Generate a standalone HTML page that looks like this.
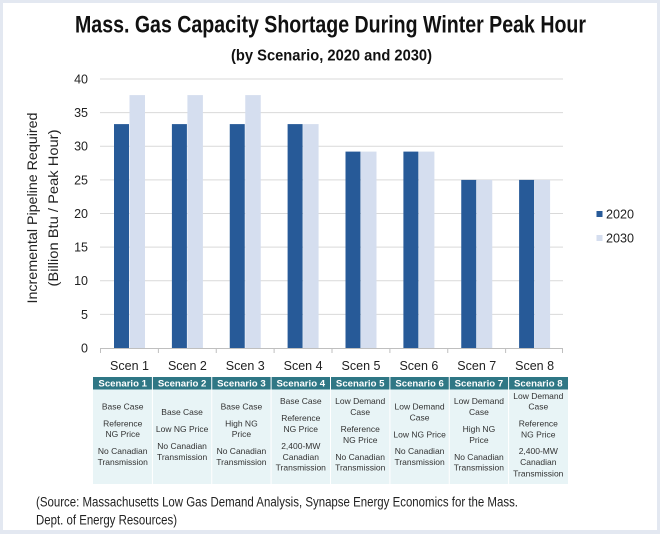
<!DOCTYPE html>
<html>
<head>
<meta charset="utf-8">
<style>
  html, body { margin: 0; padding: 0; background: #ffffff; }
  svg { display: block; }
  text { font-family: "Liberation Sans", sans-serif; }
</style>
</head>
<body>
<svg width="660" height="534" viewBox="0 0 660 534" xmlns="http://www.w3.org/2000/svg">
  <!-- frame -->
  <rect x="0" y="0" width="660" height="534" fill="#e3e8f1"/>
  <rect x="3" y="3" width="654" height="527" fill="#ffffff"/>

  <!-- titles -->
  <text x="75" y="32.5" font-size="24" font-weight="bold" fill="#111" textLength="511" lengthAdjust="spacingAndGlyphs">Mass. Gas Capacity Shortage During Winter Peak Hour</text>
  <text x="231" y="60.5" font-size="15.5" font-weight="bold" fill="#111" textLength="201" lengthAdjust="spacingAndGlyphs">(by Scenario, 2020 and 2030)</text>

  <!-- gridlines -->
  <g stroke="#d9d9d9" stroke-width="1">
    <line x1="100" y1="79" x2="563" y2="79"/>
    <line x1="100" y1="112.6" x2="563" y2="112.6"/>
    <line x1="100" y1="146.25" x2="563" y2="146.25"/>
    <line x1="100" y1="179.9" x2="563" y2="179.9"/>
    <line x1="100" y1="213.5" x2="563" y2="213.5"/>
    <line x1="100" y1="247.1" x2="563" y2="247.1"/>
    <line x1="100" y1="280.75" x2="563" y2="280.75"/>
    <line x1="100" y1="314.4" x2="563" y2="314.4"/>
  </g>

  <!-- y tick labels -->
  <g font-size="12.5" fill="#222" text-anchor="end">
    <text x="88" y="83.5">40</text>
    <text x="88" y="117">35</text>
    <text x="88" y="150.5">30</text>
    <text x="88" y="184.5">25</text>
    <text x="88" y="218">20</text>
    <text x="88" y="251.5">15</text>
    <text x="88" y="285">10</text>
    <text x="88" y="319">5</text>
    <text x="88" y="352.5">0</text>
  </g>

  <!-- y axis title -->
  <text transform="translate(37,208) rotate(-90)" font-size="14" fill="#222" text-anchor="middle" textLength="191" lengthAdjust="spacingAndGlyphs">Incremental Pipeline Required</text>
  <text transform="translate(58,208) rotate(-90)" font-size="14" fill="#222" text-anchor="middle" textLength="157" lengthAdjust="spacingAndGlyphs">(Billion Btu / Peak Hour)</text>

  <!-- bars 2020 -->
  <g fill="#275a98">
    <rect x="114" y="124.1" width="15" height="223.9"/>
    <rect x="171.9" y="124.1" width="15" height="223.9"/>
    <rect x="229.75" y="124.1" width="15" height="223.9"/>
    <rect x="287.6" y="124.1" width="15" height="223.9"/>
    <rect x="345.5" y="151.6" width="15" height="196.4"/>
    <rect x="403.4" y="151.6" width="15" height="196.4"/>
    <rect x="461.25" y="179.9" width="15" height="168.1"/>
    <rect x="519.1" y="179.9" width="15" height="168.1"/>
  </g>
  <!-- bars 2030 -->
  <g fill="#d5deef">
    <rect x="129.5" y="95.1" width="15.5" height="252.9"/>
    <rect x="187.4" y="95.1" width="15.5" height="252.9"/>
    <rect x="245.25" y="95.1" width="15.5" height="252.9"/>
    <rect x="303.1" y="124.1" width="15.5" height="223.9"/>
    <rect x="361" y="151.6" width="15.5" height="196.4"/>
    <rect x="418.9" y="151.6" width="15.5" height="196.4"/>
    <rect x="476.75" y="179.9" width="15.5" height="168.1"/>
    <rect x="534.6" y="179.9" width="15.5" height="168.1"/>
  </g>

  <!-- x axis -->
  <g stroke="#bfbfbf" stroke-width="1">
    <line x1="100" y1="348.5" x2="563" y2="348.5"/>
    <line x1="100.5" y1="348.5" x2="100.5" y2="353"/>
    <line x1="158.4" y1="348.5" x2="158.4" y2="353"/>
    <line x1="216.25" y1="348.5" x2="216.25" y2="353"/>
    <line x1="274.1" y1="348.5" x2="274.1" y2="353"/>
    <line x1="332" y1="348.5" x2="332" y2="353"/>
    <line x1="389.9" y1="348.5" x2="389.9" y2="353"/>
    <line x1="447.75" y1="348.5" x2="447.75" y2="353"/>
    <line x1="505.6" y1="348.5" x2="505.6" y2="353"/>
    <line x1="562.5" y1="348.5" x2="562.5" y2="353"/>
  </g>

  <!-- category labels -->
  <g font-size="12.5" fill="#222" text-anchor="middle">
    <text x="129.5" y="370">Scen 1</text>
    <text x="187.4" y="370">Scen 2</text>
    <text x="245.25" y="370">Scen 3</text>
    <text x="303.1" y="370">Scen 4</text>
    <text x="361" y="370">Scen 5</text>
    <text x="418.9" y="370">Scen 6</text>
    <text x="476.75" y="370">Scen 7</text>
    <text x="534.6" y="370">Scen 8</text>
  </g>

  <!-- legend -->
  <rect x="596.5" y="211" width="6" height="6" fill="#275a98"/>
  <text x="606" y="218.5" font-size="13" fill="#222" textLength="28" lengthAdjust="spacingAndGlyphs">2020</text>
  <rect x="596.5" y="235" width="6" height="6" fill="#d5deef"/>
  <text x="606" y="242.5" font-size="13" fill="#222" textLength="28" lengthAdjust="spacingAndGlyphs">2030</text>

  <!-- table -->
  <rect x="93" y="377" width="475" height="12.5" fill="#2f7785"/>
  <rect x="93" y="389.5" width="475" height="94.5" fill="#e8f4f6"/>
  <g stroke="#ffffff" stroke-width="1">
    <line x1="152.4" y1="377" x2="152.4" y2="484"/>
    <line x1="211.75" y1="377" x2="211.75" y2="484"/>
    <line x1="271.1" y1="377" x2="271.1" y2="484"/>
    <line x1="330.5" y1="377" x2="330.5" y2="484"/>
    <line x1="389.9" y1="377" x2="389.9" y2="484"/>
    <line x1="449.25" y1="377" x2="449.25" y2="484"/>
    <line x1="508.6" y1="377" x2="508.6" y2="484"/>
  </g>
  <g font-size="9.6" font-weight="bold" fill="#ffffff" text-anchor="middle">
    <text x="122.7" y="386.6">Scenario 1</text>
    <text x="182.1" y="386.6">Scenario 2</text>
    <text x="241.4" y="386.6">Scenario 3</text>
    <text x="300.8" y="386.6">Scenario 4</text>
    <text x="360.2" y="386.6">Scenario 5</text>
    <text x="419.6" y="386.6">Scenario 6</text>
    <text x="478.9" y="386.6">Scenario 7</text>
    <text x="538.3" y="386.6">Scenario 8</text>
  </g>
  <g font-size="8.5" fill="#333" text-anchor="middle">
    <!-- col 1 -->
    <text x="122.7" y="409.3">Base Case</text>
    <text x="122.7" y="426.5">Reference</text>
    <text x="122.7" y="437.2">NG Price</text>
    <text x="122.7" y="454.2">No Canadian</text>
    <text x="122.7" y="464.9">Transmission</text>
    <!-- col 2 -->
    <text x="182.1" y="415.2">Base Case</text>
    <text x="182.1" y="432.2">Low NG Price</text>
    <text x="182.1" y="448.9">No Canadian</text>
    <text x="182.1" y="459.9">Transmission</text>
    <!-- col 3 -->
    <text x="241.4" y="409.3">Base Case</text>
    <text x="241.4" y="426.5">High NG</text>
    <text x="241.4" y="437.2">Price</text>
    <text x="241.4" y="454.2">No Canadian</text>
    <text x="241.4" y="464.9">Transmission</text>
    <!-- col 4 -->
    <text x="300.8" y="404.2">Base Case</text>
    <text x="300.8" y="420.9">Reference</text>
    <text x="300.8" y="432.2">NG Price</text>
    <text x="300.8" y="448.9">2,400-MW</text>
    <text x="300.8" y="459.9">Canadian</text>
    <text x="300.8" y="470.5">Transmission</text>
    <!-- col 5 -->
    <text x="360.2" y="404.2">Low Demand</text>
    <text x="360.2" y="415.2">Case</text>
    <text x="360.2" y="431.9">Reference</text>
    <text x="360.2" y="443.2">NG Price</text>
    <text x="360.2" y="459.9">No Canadian</text>
    <text x="360.2" y="470.5">Transmission</text>
    <!-- col 6 -->
    <text x="419.6" y="409.3">Low Demand</text>
    <text x="419.6" y="420.5">Case</text>
    <text x="419.6" y="437.5">Low NG Price</text>
    <text x="419.6" y="454.2">No Canadian</text>
    <text x="419.6" y="464.9">Transmission</text>
    <!-- col 7 -->
    <text x="478.9" y="404.2">Low Demand</text>
    <text x="478.9" y="415.2">Case</text>
    <text x="478.9" y="432.2">High NG</text>
    <text x="478.9" y="443.2">Price</text>
    <text x="478.9" y="459.9">No Canadian</text>
    <text x="478.9" y="470.5">Transmission</text>
    <!-- col 8 -->
    <text x="538.3" y="398.9">Low Demand</text>
    <text x="538.3" y="409.5">Case</text>
    <text x="538.3" y="426.5">Reference</text>
    <text x="538.3" y="437.5">NG Price</text>
    <text x="538.3" y="454.2">2,400-MW</text>
    <text x="538.3" y="464.9">Canadian</text>
    <text x="538.3" y="476.5">Transmission</text>
  </g>

  <!-- source -->
  <text x="36" y="506.5" font-size="13.5" fill="#222" textLength="482" lengthAdjust="spacingAndGlyphs">(Source: Massachusetts Low Gas Demand Analysis, Synapse Energy Economics for the Mass.</text>
  <text x="36" y="524.5" font-size="13.5" fill="#222" textLength="141" lengthAdjust="spacingAndGlyphs">Dept. of Energy Resources)</text>
</svg>
</body>
</html>
